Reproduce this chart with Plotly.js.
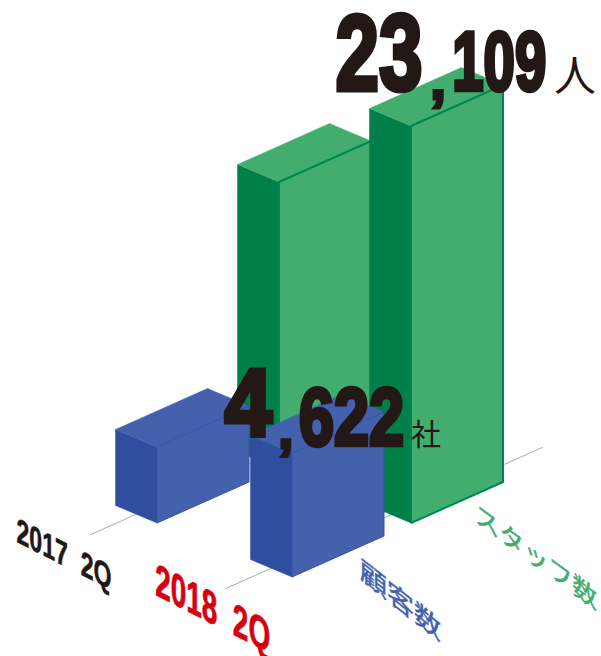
<!DOCTYPE html>
<html><head><meta charset="utf-8">
<script src="https://cdn.plot.ly/plotly-3.0.1.min.js"></script>
<style>html,body{margin:0;padding:0;background:#fff}#c{width:601px;height:656px}</style>
</head><body><div id="c"></div>
<script>
// ---- data ----
const categories = ['2017\u00a0\u00a02Q', '2018\u00a0\u00a02Q'];
const seriesNames = ['顧客数', 'スタッフ数'];
const customers = [2833, 4622];
const staff = [16706, 23109];
const units = ['社', '人'];

// ---- colours ----
const INK = '#231815', RED = '#d7000f';
const palette = [
  {front:'#4361ac', side:'#304ea0', top:'#4361ac', edge:'#3654a4', label:'#4361ac'},
  {front:'#43ad70', side:'#007f48', top:'#43ad70', edge:'#00874e', label:'#43ad70'}
];

// ---- oblique projection: (category, series, along width, along depth, value) -> pixel axes ----
const ORIGIN = [157, 523], CAT = [135, 54], SER = [122, -54], CATSER = -3;
const WIDTH = [92, -41], DEPTH = [-41.5, -17.5];
const HEIGHT_PER_UNIT = [124 / 4622, 397 / 23109];
function P(c, s, w, d, v) {
  return [
    ORIGIN[0] + c * CAT[0] + s * SER[0] + c * s * CATSER + w * WIDTH[0] + d * DEPTH[0],
    ORIGIN[1] + c * CAT[1] + s * SER[1] + w * WIDTH[1] + d * DEPTH[1] - v * HEIGHT_PER_UNIT[s]
  ];
}
function face(pts, fill, lineColor, lw) {
  const xs = pts.map(p => p[0]), ys = pts.map(p => p[1]);
  xs.push(xs[0]); ys.push(ys[0]);
  return {x: xs, y: ys, type: 'scatter', mode: 'lines', fill: 'toself', fillcolor: fill,
    line: {color: lineColor, width: lw}, hoverinfo: 'skip', showlegend: false};
}
function bar(c, s, v) {
  const k = palette[s], lw = s === 1 ? 2 : 1;
  return [
    face([P(c,s,0,0,0), P(c,s,0,1,0), P(c,s,0,1,v), P(c,s,0,0,v)], k.side, k.side, 0.5),
    face([P(c,s,0,0,v), P(c,s,0,1,v), P(c,s,1,1,v), P(c,s,1,0,v)], k.top, k.top, 0.5),
    face([P(c,s,0,0,0), P(c,s,1,0,0), P(c,s,1,0,v), P(c,s,0,0,v)], k.front, k.edge, lw)
  ];
}
const traces = [];
[0, 1].forEach(c => {
  const a = P(c, 0, -0.5, 0.5, 0), b = P(c, 0, 2.95, 0.5, 0);
  traces.push({x: [a[0], b[0]], y: [a[1], b[1]], type: 'scatter', mode: 'lines',
    line: {color: '#ababab', width: 1}, hoverinfo: 'skip', showlegend: false});
});
[[1, staff], [0, customers]].forEach(([s, vals]) => {
  vals.forEach((v, c) => bar(c, s, v).forEach(t => traces.push(t)));
});

// ---- text ----
const NUM = '"Liberation Sans Narrow","Liberation Sans",sans-serif';
const CJK = '"Noto Sans CJK JP",sans-serif';
const ann = [], fx = [];
function T(text, x, y, size, color, family, opt) {
  opt = opt || {};
  ann.push({text, x, y, xref: 'x', yref: 'y', showarrow: false, xanchor: 'center', yanchor: 'middle',
    font: {size, color, family, weight: opt.weight || 400}});
  opt.color = color;
  fx.push(opt);
}
const fmt = n => n.toLocaleString('en-US').split(',');
const a = fmt(staff[1]), b = fmt(customers[1]);
T(a[0], 379, 52, 108, INK, NUM, {weight: 700, len: 87, stroke: 5});
T(',', 438, 78, 58, INK, NUM, {weight: 700, stroke: 3});
T(a[1], 499, 61, 83, INK, NUM, {weight: 700, len: 94, stroke: 4.5});
T(units[1], 575, 72, 42, INK, CJK);
T(b[0], 248, 402, 94, INK, NUM, {weight: 700, len: 47, stroke: 5});
T(',', 286, 428, 56, INK, NUM, {weight: 700, stroke: 3});
T(b[1], 351, 416, 82, INK, NUM, {weight: 700, len: 105, stroke: 4.5});
T(units[0], 426, 432, 30, INK, CJK);
T(categories[0], 64, 553, 35, INK, NUM, {weight: 700, len: 95, skew: 27, stroke: 0.6});
T(categories[1], 212, 608, 46, RED, NUM, {weight: 700, len: 115, skew: 27, stroke: 0.8});
T(seriesNames[0], 400, 598, 27, palette[0].label, CJK, {skew: 38, stroke: 0.5});
T(seriesNames[1], 536, 554, 26, palette[1].label, CJK, {skew: 36, len: 122, stroke: 0.5});

const layout = {
  width: 601, height: 656, margin: {l: 0, r: 0, t: 0, b: 0},
  paper_bgcolor: '#fff', plot_bgcolor: '#fff', showlegend: false,
  xaxis: {range: [0, 601], visible: false, fixedrange: true},
  yaxis: {range: [656, 0], visible: false, fixedrange: true},
  annotations: ann
};
Plotly.newPlot('c', traces, layout, {staticPlot: true, displayModeBar: false}).then(() => {
  document.querySelectorAll('.annotation-text').forEach((el, i) => {
    const o = fx[i]; if (!o) return;
    if (o.len) { el.setAttribute('textLength', o.len); el.setAttribute('lengthAdjust', 'spacingAndGlyphs'); }
    if (o.stroke) { el.style.stroke = o.color; el.style.strokeWidth = o.stroke + 'px'; el.style.strokeLinejoin = 'miter'; }
    if (o.skew) { el.style.transformBox = 'fill-box'; el.style.transformOrigin = 'center'; el.style.transform = 'skewY(' + o.skew + 'deg)'; }
  });
});
</script></body></html>
